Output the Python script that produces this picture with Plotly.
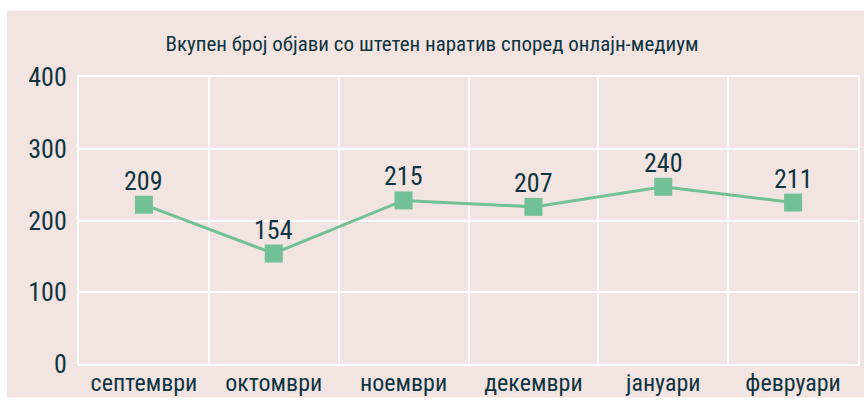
import plotly.graph_objects as go

categories = ["септември", "октомври", "ноември", "декември", "јануари", "февруари"]
values = [222, 154, 228, 219, 247, 225]
labels = ["209", "154", "215", "207", "240", "211"]
y_ticks = [0, 100, 200, 300, 400]

FONT = "Roboto Condensed, Roboto, sans-serif"
TXT = "#0f3440"
GREEN = "#72c096"
PINK = "#f2e4e1"

fig = go.Figure()
fig.add_trace(go.Scatter(
    x=categories, y=values, mode="lines+markers",
    line=dict(color=GREEN, width=3),
    marker=dict(symbol="square", size=18, color=GREEN),
    cliponaxis=False, hoverinfo="skip",
))
for c, v, t in zip(categories, values, labels):
    fig.add_annotation(x=c, y=v, text=t, showarrow=False, yanchor="middle",
                       yshift=24, font=dict(family=FONT, size=26, color=TXT))

W, H = 864, 401
L, R, T, B = 79, 6, 76.5, 36.5
pw, ph = W - L - R, H - T - B

def px(x):
    return (x - L) / pw

def py(y):
    return (H - B - y) / ph

fig.add_shape(type="rect", xref="paper", yref="paper",
              x0=px(7), x1=px(864), y0=py(398), y1=py(10),
              fillcolor=PINK, line=dict(width=0), layer="below")

fig.update_layout(
    width=W, height=H,
    margin=dict(l=L, r=R, t=T, b=B, autoexpand=False),
    paper_bgcolor="white", plot_bgcolor="rgba(0,0,0,0)",
    showlegend=False,
    title=dict(text="Вкупен број објави со штетен наратив според онлајн-медиум",
               x=0.5, xref="container", xanchor="center", y=1 - 44 / H, yanchor="middle",
               font=dict(family=FONT, size=21, color=TXT)),
    font=dict(family=FONT, color=TXT),
)
fig.update_xaxes(type="category", range=[-0.5, 5.5], tickson="boundaries",
                 showgrid=True, gridcolor="white", gridwidth=2,
                 showline=True, linecolor="white", linewidth=2, mirror=True,
                 ticks="", tickfont=dict(family=FONT, size=24, color=TXT),
                 ticklabelstandoff=-4, zeroline=False, fixedrange=True, automargin=False)
fig.update_yaxes(range=[0, 400], tickvals=y_ticks,
                 showgrid=True, gridcolor="white", gridwidth=2,
                 showline=True, linecolor="white", linewidth=2, mirror=True,
                 zeroline=False, ticks="", tickfont=dict(family=FONT, size=26, color=TXT),
                 ticklabelstandoff=5, fixedrange=True, automargin=False)

fig.write_html("out.html", config={"displayModeBar": False},
               post_script="document.body.style.margin='0';document.body.style.padding='0';")
